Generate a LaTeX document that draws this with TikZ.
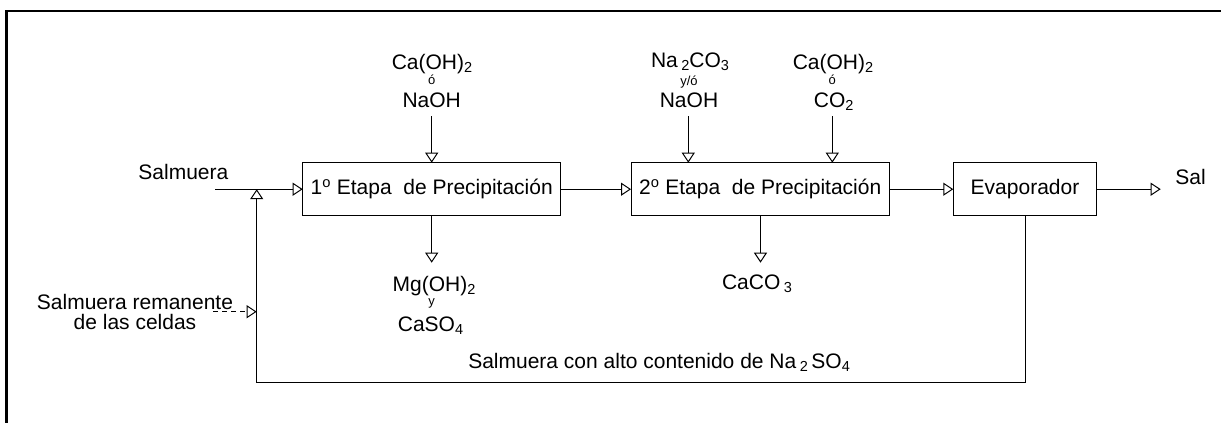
\documentclass[tikz,border=0pt]{standalone}
\usepackage{fontspec}
\setmainfont{Liberation Sans}
\usetikzlibrary{arrows.meta}
\newcommand{\chs}[1]{\raisebox{-0.3ex}{\fontsize{14.5}{14.5}\selectfont #1}}
\begin{document}
\begin{tikzpicture}[x=1pt,y=-1pt,
  every node/.style={font=\fontsize{21}{24}\selectfont, inner sep=0pt, outer sep=0pt},
  lbl/.style={anchor=base},
  small/.style={anchor=base, font=\fontsize{13}{13}\selectfont},
  proc/.style={draw, line width=1pt, minimum height=53pt},
  flow/.style={line width=1pt, -{Triangle[open, length=10pt, width=13pt]}},
  dflow/.style={line width=1pt, dash pattern=on 5pt off 4pt, -{Triangle[open, length=10pt, width=13pt]}},
  line/.style={line width=1pt}]
\useasboundingbox (0,0) rectangle (1221,423);
\begin{scope}
\clip (0,0) rectangle (1221,423);
\draw[line width=2.5pt] (1230,11) -- (6.7,11) -- (6.7,430);
\end{scope}

% process boxes
\node[proc, minimum width=258pt] (b1) at (431.7,189.2) {1\textsuperscript{o} Etapa\ \ de Precipitación};
\node[proc, minimum width=258.3pt] (b2) at (760.2,189.2) {2\textsuperscript{o} Etapa\ \ de Precipitación};
\node[proc, minimum width=143.4pt] (b3) at (1025,189.2) {Evaporador};

% inputs
\node[lbl] (sal) at (183.4,179) {Salmuera};
\coordinate (sin) at (215,189.2);
\node[lbl] (salout) at (1190.5,184) {Sal};
\coordinate (sout) at (1160.7,189.2);

% top labels box1
\node[lbl] (a1) at (432,69.5) {Ca(OH)\chs{2}};
\node[small] (a2) at (431.7,84) {ó};
\node[lbl] (a3) at (431.7,107) {NaOH};
\coordinate (a4) at (431.7,116);

% top labels box2 left
\node[lbl] (c1) at (690,67) {Na\,\chs{2}CO\chs{3}};
\node[small] (c2) at (689,85) {y/ó};
\node[lbl] (c3) at (689,107) {NaOH};
\coordinate (c4) at (688.3,116);

% top labels box2 right
\node[lbl] (d1) at (833,69.5) {Ca(OH)\chs{2}};
\node[small] (d2) at (832.3,84.5) {ó};
\node[lbl] (d3) at (833.7,107) {CO\chs{2}};
\coordinate (d4) at (832.3,116);

% bottom labels box1
\coordinate (e0) at (431.7,262.7);
\node[lbl] (e1) at (434,291) {Mg(OH)\chs{2}};
\node[small] (e2) at (431.7,305) {y};
\node[lbl] (e3) at (430.5,331.5) {CaSO\chs{4}};

% bottom label box2
\coordinate (f0) at (760.5,262.7);
\node[lbl] (f1) at (757,289.3) {CaCO\,\chs{3}};

% recycle
\node[lbl] (r1) at (135,309) {\fontsize{21}{17.7}\selectfont\begin{tabular}[t]{@{}c@{}}Salmuera remanente\\de las celdas\end{tabular}};
\coordinate (rd) at (213.3,311.7);
\coordinate (rv) at (256.7,311.7);
\coordinate (rj) at (256.7,189.2);
\coordinate (rb) at (256.7,382.5);
\coordinate (re) at (1025.7,382.5);
\node[anchor=base west] (rl) at (468.3,368.3) {Salmuera con alto contenido de Na\,\chs{2}\,SO\chs{4}};

% main flow
\draw[line] (sin) -- (rj);
\draw[flow] (rj) -- (b1.west);
\draw[flow] (b1.east) -- (b2.west);
\draw[flow] (b2.east) -- (b3.west);
\draw[flow] (b3.east) -- (sout);

% reagents
\draw[flow] (a4) -- (a4 |- b1.north);
\draw[flow] (c4) -- (c4 |- b2.north);
\draw[flow] (d4) -- (d4 |- b2.north);
\draw[flow] (e0 |- b1.south) -- (e0);
\draw[flow] (f0 |- b2.south) -- (f0);

% recycle loop
\draw[line] (re |- b3.south) -- (re) -- (rb);
\draw[flow] (rb) -- (rj);
\draw[dflow] (rd) -- (rv);
\end{tikzpicture}
\end{document}
